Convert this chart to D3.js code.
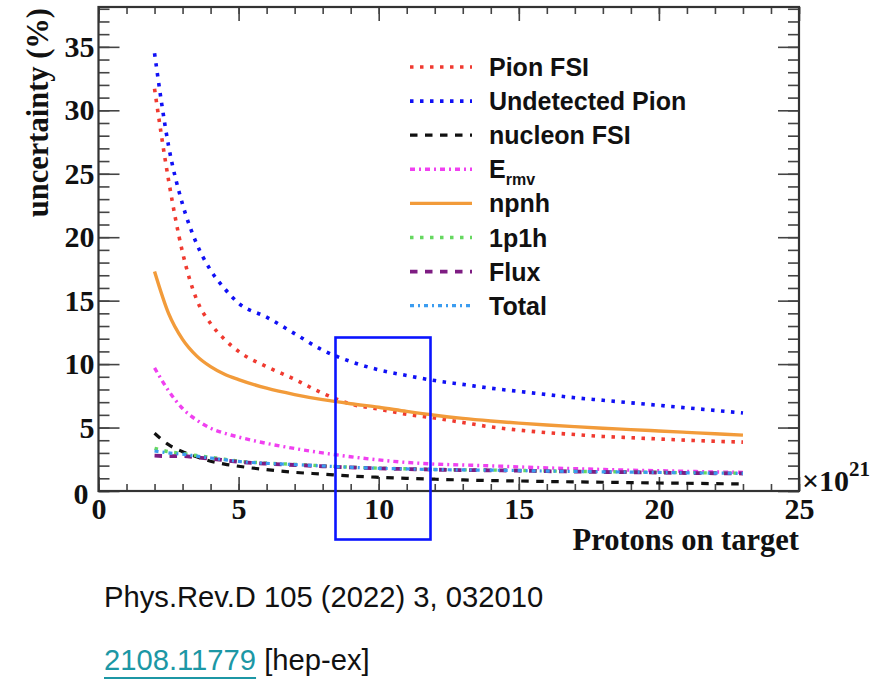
<!DOCTYPE html>
<html>
<head>
<meta charset="utf-8">
<script src="https://cdn.jsdelivr.net/npm/d3@7/dist/d3.min.js"></script>
<style>
  html, body { margin: 0; padding: 0; background: #fff; }
  svg { display: block; }
</style>
</head>
<body>
<svg id="chart" width="890" height="682"></svg>
<script>
// Protons on target, in units of 1e21
const pot = [2, 2.5, 3, 3.5, 4, 4.5, 5, 6, 7, 8, 9, 10, 11, 12, 13, 14, 15, 16, 17, 18, 19, 20, 21, 22, 23];

// Uncertainty (%) per systematic source
const pionFSI      = [31.7, 24.5, 18.8, 15.1, 13.2, 11.95, 11.0, 9.8, 8.8, 7.7, 6.85, 6.45, 6.05, 5.75, 5.4, 5.05, 4.8, 4.6, 4.45, 4.3, 4.2, 4.1, 4.0, 3.92, 3.85];
const undetPion    = [34.5, 27.2, 22.6, 19.5, 17.4, 15.95, 14.8, 13.7, 12.4, 11.1, 10.2, 9.55, 9.1, 8.7, 8.4, 8.1, 7.85, 7.6, 7.35, 7.15, 6.95, 6.75, 6.55, 6.35, 6.15];
const nucleonFSI   = [4.55, 3.65, 3.1, 2.7, 2.35, 2.12, 1.95, 1.68, 1.47, 1.33, 1.18, 1.08, 1.0, 0.93, 0.87, 0.82, 0.79, 0.75, 0.72, 0.69, 0.66, 0.63, 0.61, 0.58, 0.56];
const eRmv         = [9.7, 7.9, 6.5, 5.6, 4.95, 4.55, 4.25, 3.75, 3.35, 3.0, 2.7, 2.45, 2.25, 2.12, 2.05, 1.98, 1.9, 1.82, 1.76, 1.7, 1.64, 1.6, 1.55, 1.5, 1.47];
const npnh         = [17.3, 14.0, 11.95, 10.65, 9.8, 9.2, 8.78, 8.1, 7.6, 7.2, 6.88, 6.6, 6.27, 5.97, 5.72, 5.52, 5.35, 5.2, 5.07, 4.95, 4.84, 4.73, 4.62, 4.51, 4.4];
const onePoneH     = [3.36, 3.1, 2.95, 2.8, 2.65, 2.5, 2.35, 2.2, 2.1, 1.98, 1.88, 1.8, 1.75, 1.7, 1.67, 1.65, 1.62, 1.58, 1.55, 1.52, 1.5, 1.47, 1.44, 1.42, 1.4];
const flux         = [2.78, 2.75, 2.75, 2.65, 2.55, 2.42, 2.3, 2.15, 2.05, 1.95, 1.86, 1.78, 1.73, 1.68, 1.65, 1.63, 1.6, 1.56, 1.53, 1.5, 1.48, 1.45, 1.42, 1.4, 1.38];
const total        = [3.15, 3.0, 2.9, 2.75, 2.6, 2.46, 2.33, 2.18, 2.08, 1.97, 1.87, 1.79, 1.74, 1.69, 1.66, 1.64, 1.61, 1.57, 1.54, 1.51, 1.49, 1.46, 1.43, 1.41, 1.39];

const xTicksMajor = [0, 5, 10, 15, 20, 25];
const yTicksMajor = [0, 5, 10, 15, 20, 25, 30, 35];

const seriesNames = ["Pion FSI", "Undetected Pion", "nucleon FSI", "E", "npnh", "1p1h", "Flux", "Total"];
const seriesData  = [pionFSI, undetPion, nucleonFSI, eRmv, npnh, onePoneH, flux, total];
const seriesColor = ["#f03a30", "#1010f5", "#111111", "#f040f0", "#f29b3a", "#66d860", "#7e1c82", "#3b9cf0"];
const seriesDash  = ["3.5,6.5", "3.5,6.5", "7.5,7.5", "5,4,2,4", null, "3.5,6.5", "7.5,7.5", "4,4,2,4"];
const seriesWidth = [3.6, 3.6, 3.2, 3.4, 3.4, 3.4, 3.8, 3.2];

const svg = d3.select("#chart");
const plot = { left: 98.5, right: 799, top: 7, bottom: 491 };

const x = d3.scaleLinear().domain([0, 25]).range([plot.left, plot.right]);
const y = d3.scaleLinear().domain([0, 38.14]).range([plot.bottom, plot.top]);

const serif = "'Liberation Serif', 'Times New Roman', serif";
const sans = "'Liberation Sans', Arial, Helvetica, sans-serif";

// ---------- axes (ticks point inward, ROOT style) ----------
const axisColor = "#444";
function styleAxis(g) {
  g.select(".domain").remove();
  g.selectAll(".tick line").attr("stroke", axisColor).attr("stroke-width", 1.6);
  g.selectAll(".tick text")
    .attr("fill", "#111")
    .style("font-family", serif)
    .style("font-weight", "bold")
    .style("font-size", "30px");
}

// bottom
svg.append("g").attr("transform", `translate(0,${plot.bottom})`)
  .call(d3.axisBottom(x).tickValues(d3.range(0, 26)).tickSize(-7).tickFormat(""))
  .call(styleAxis);
svg.append("g").attr("transform", `translate(0,${plot.bottom})`)
  .call(d3.axisBottom(x).tickValues(xTicksMajor).tickSize(-14).tickPadding(7).tickFormat(d3.format("d")))
  .call(styleAxis);
// top
svg.append("g").attr("transform", `translate(0,${plot.top})`)
  .call(d3.axisTop(x).tickValues(d3.range(0, 26)).tickSize(-7).tickFormat(""))
  .call(styleAxis);
svg.append("g").attr("transform", `translate(0,${plot.top})`)
  .call(d3.axisTop(x).tickValues(xTicksMajor).tickSize(-14).tickFormat(""))
  .call(styleAxis);
// left
svg.append("g").attr("transform", `translate(${plot.left},0)`)
  .call(d3.axisLeft(y).tickValues(d3.range(0, 39)).tickSize(-11).tickFormat(""))
  .call(styleAxis);
const yMajor = svg.append("g").attr("transform", `translate(${plot.left},0)`)
  .call(d3.axisLeft(y).tickValues(yTicksMajor).tickSize(-21).tickPadding(4).tickFormat(d3.format("d")))
  .call(styleAxis);
yMajor.selectAll(".tick").filter(d => d === 0).select("text").attr("dx", -6).attr("dy", "0.42em");
// right
svg.append("g").attr("transform", `translate(${plot.right},0)`)
  .call(d3.axisRight(y).tickValues(d3.range(0, 39)).tickSize(-11).tickFormat(""))
  .call(styleAxis);
svg.append("g").attr("transform", `translate(${plot.right},0)`)
  .call(d3.axisRight(y).tickValues(yTicksMajor).tickSize(-21).tickFormat(""))
  .call(styleAxis);

// frame
svg.append("rect")
  .attr("x", plot.left).attr("y", plot.top)
  .attr("width", plot.right - plot.left).attr("height", plot.bottom - plot.top)
  .attr("fill", "none").attr("stroke", "#333").attr("stroke-width", 2.2);

// axis titles
svg.append("text")
  .attr("x", plot.right).attr("y", 550)
  .attr("text-anchor", "end")
  .style("font-family", serif).style("font-weight", "bold").style("font-size", "30.5px")
  .attr("fill", "#111")
  .text("Protons on target");

svg.append("text")
  .attr("transform", "rotate(-90)")
  .attr("x", -8).attr("y", 48)
  .attr("text-anchor", "end")
  .style("font-family", serif).style("font-weight", "bold").style("font-size", "30.5px")
  .attr("fill", "#111")
  .text("uncertainty (%)");

// axis exponent
const expo = svg.append("text")
  .attr("x", 802).attr("y", 491)
  .style("font-family", serif).style("font-weight", "bold").style("font-size", "30px")
  .attr("fill", "#111");
expo.append("tspan").text("\u00d710");
expo.append("tspan").attr("dy", -15).style("font-size", "21px").text("21");

// ---------- curves ----------
const line = d3.line()
  .x(d => x(d[0]))
  .y(d => y(d[1]))
  .curve(d3.curveMonotoneX);

const curves = svg.append("g");
seriesData.forEach((vals, i) => {
  curves.append("path")
    .datum(pot.map((p, k) => [p, vals[k]]))
    .attr("d", line)
    .attr("fill", "none")
    .attr("stroke", seriesColor[i])
    .attr("stroke-width", seriesWidth[i])
    .attr("stroke-dasharray", seriesDash[i])
    .attr("stroke-linejoin", "round");
});

// ---------- legend ----------
const legend = svg.append("g");
const legY0 = 67, legStep = 34.1;
seriesNames.forEach((name, i) => {
  const ly = legY0 + i * legStep;
  legend.append("line")
    .attr("x1", 410).attr("x2", 472)
    .attr("y1", ly).attr("y2", ly)
    .attr("stroke", seriesColor[i])
    .attr("stroke-width", seriesWidth[i])
    .attr("stroke-dasharray", seriesDash[i]);
  const t = legend.append("text")
    .attr("x", 489).attr("y", ly + 9)
    .style("font-family", sans).style("font-weight", "bold").style("font-size", "25px")
    .attr("fill", "#111");
  t.append("tspan").text(name);
  if (name === "E") {
    t.append("tspan").attr("dy", 7).style("font-size", "16px").text("rmv");
  }
});

// ---------- highlight box ----------
svg.append("rect")
  .attr("x", 335.5).attr("y", 337.5)
  .attr("width", 95).attr("height", 202)
  .attr("fill", "none").attr("stroke", "#0a14ff").attr("stroke-width", 2.6);

// ---------- reference ----------
const refSize = "29.2px";
svg.append("text")
  .attr("x", 104).attr("y", 607)
  .style("font-family", sans).style("font-size", refSize)
  .attr("fill", "#111")
  .text("Phys.Rev.D 105 (2022) 3, 032010");

const link = svg.append("text")
  .attr("x", 104).attr("y", 670)
  .style("font-family", sans).style("font-size", refSize)
  .attr("fill", "#1c97a5")
  .text("2108.11779");
const linkW = link.node().getComputedTextLength();
svg.append("line")
  .attr("x1", 104).attr("x2", 104 + linkW)
  .attr("y1", 678).attr("y2", 678)
  .attr("stroke", "#1c97a5").attr("stroke-width", 2);
svg.append("text")
  .attr("x", 104 + linkW).attr("y", 670)
  .style("font-family", sans).style("font-size", refSize)
  .attr("fill", "#111")
  .text("\u00a0[hep-ex]");
</script>
</body>
</html>
